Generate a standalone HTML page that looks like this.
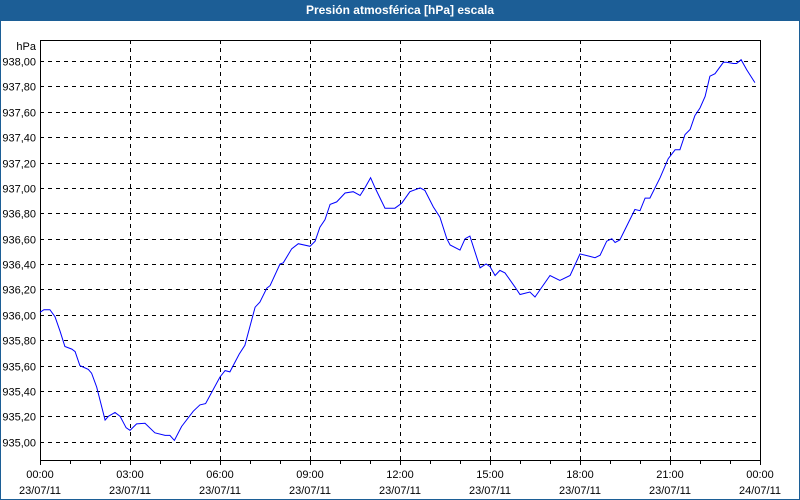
<!DOCTYPE html>
<html><head><meta charset="utf-8"><style>
html,body{margin:0;padding:0;width:800px;height:500px;overflow:hidden;background:#fff;font-family:"Liberation Sans",sans-serif}
#frame{position:absolute;left:0;top:0;width:798px;height:498px;border:1px solid #1c5e96;background:#fff}
#title{position:absolute;left:0;top:0;width:800px;height:21px;background:#1c5e96;color:#fff;font-weight:bold;font-size:12px;line-height:21px;text-align:center}
svg{position:absolute;left:0;top:0}
</style></head><body>
<div id="frame"></div>
<div id="title">Presión atmosférica [hPa] escala</div>
<svg id="chart" width="800" height="500"></svg>
<script>
const hours=[0,.13,.33,.5,.67,.83,1.06,1.17,1.33,1.61,1.72,1.89,2.17,2.28,2.5,2.67,2.87,3.0,3.22,3.5,3.83,4.17,4.33,4.48,4.72,5.11,5.33,5.52,6.0,6.17,6.33,6.64,6.83,7.17,7.33,7.56,7.67,8.0,8.11,8.39,8.61,9.0,9.17,9.33,9.5,9.67,9.89,10.17,10.44,10.67,10.83,11.02,11.17,11.5,11.83,12.06,12.33,12.67,12.83,13.11,13.33,13.56,13.67,14.0,14.17,14.33,14.67,14.87,15.0,15.17,15.33,15.5,15.83,16.0,16.33,16.5,17.0,17.33,17.67,18.0,18.33,18.5,18.67,18.89,19.06,19.17,19.33,19.83,20.0,20.17,20.33,20.67,20.94,21.17,21.33,21.5,21.67,21.83,22.0,22.17,22.33,22.5,22.78,22.89,23.11,23.22,23.37,23.56,23.83];
const pressure=[936.02,936.04,936.04,935.985,935.87,935.75,935.73,935.71,935.60,935.57,935.54,935.43,935.17,935.20,935.23,935.20,935.11,935.09,935.14,935.145,935.07,935.05,935.05,935.01,935.12,935.24,935.29,935.30,935.51,935.56,935.55,935.69,935.76,936.06,936.10,936.21,936.23,936.40,936.41,936.52,936.56,936.54,936.58,936.69,936.75,936.87,936.89,936.96,936.97,936.94,937.00,937.08,937.00,936.84,936.84,936.88,936.97,937.00,936.98,936.85,936.77,936.60,936.55,936.51,936.60,936.62,936.37,936.40,936.38,936.31,936.35,936.33,936.22,936.16,936.18,936.14,936.31,936.27,936.31,936.48,936.46,936.45,936.47,936.58,936.60,936.57,936.59,936.83,936.82,936.92,936.92,937.08,937.23,937.30,937.30,937.42,937.46,937.57,937.63,937.72,937.88,937.90,937.99,937.99,937.98,937.98,938.01,937.93,937.83];
const yTicks=[935.0,935.2,935.4,935.6,935.8,936.0,936.2,936.4,936.6,936.8,937.0,937.2,937.4,937.6,937.8,938.0];
const xMajor=[0,3,6,9,12,15,18,21,24];
const xTimeLabels=["00:00","03:00","06:00","09:00","12:00","15:00","18:00","21:00","00:00"];
const xDateLabels=["23/07/11","23/07/11","23/07/11","23/07/11","23/07/11","23/07/11","23/07/11","23/07/11","24/07/11"];

const L=40,R=760,T=40,B=460;
const xS=h=>L+h*(R-L)/24;
const yS=v=>61+(938-v)*126.9;
const svg=document.getElementById('chart');
const NS='http://www.w3.org/2000/svg';
function mk(tag,attrs,parent){const e=document.createElementNS(NS,tag);for(const k in attrs)e.setAttribute(k,attrs[k]);(parent||svg).appendChild(e);return e;}

const grid=mk('g',{});


yTicks.forEach(v=>{
  const y=Math.round(yS(v))+0.5;
  const l=mk('line',{x1:L,x2:R,y1:y,y2:y,stroke:'#000','stroke-width':1,'stroke-dasharray':'4,4'},grid);
  
  
  const t=mk('text',{x:36,y:y+4,'text-anchor':'end','font-size':11,fill:'#000','font-family':'Liberation Sans, sans-serif'});
  t.textContent=v.toFixed(2).replace('.',',');
  
  
});
for(let h=0;h<=24;h++){
  const x=Math.round(xS(h))+0.5;
  if(h%3===0&&h>0&&h<24){
    const l=mk('line',{x1:x,x2:x,y1:T,y2:B,stroke:'#000','stroke-width':1,'stroke-dasharray':'4,4'},grid);
    
    
  }
  const tk=mk('line',{x1:x,x2:x,y1:B,y2:B+(h%3===0?5:4),stroke:'#000','stroke-width':1});
  
  
}
xMajor.forEach((h,i)=>{
  const x=xS(h);
  const t1=mk('text',{x:x,y:478,'text-anchor':'middle','font-size':11,fill:'#000'});
  t1.textContent=xTimeLabels[i];
  
  
  const t2=mk('text',{x:x,y:494,'text-anchor':'middle','font-size':11,fill:'#000'});
  t2.textContent=xDateLabels[i];
  
  
});
const unit=mk('text',{x:36,y:50,'text-anchor':'end','font-size':11,fill:'#000'});
unit.textContent='hPa';



const box=mk('rect',{x:L+0.5,y:T+0.5,width:R-L,height:B-T,fill:'none',stroke:'#000','stroke-width':1});



const pts=hours.map((h,i)=>xS(h).toFixed(1)+','+yS(pressure[i]).toFixed(1)).join(' ');
const line=mk('polyline',{points:pts,fill:'none',stroke:'#0000ff','stroke-width':1});


</script>
</body></html>
